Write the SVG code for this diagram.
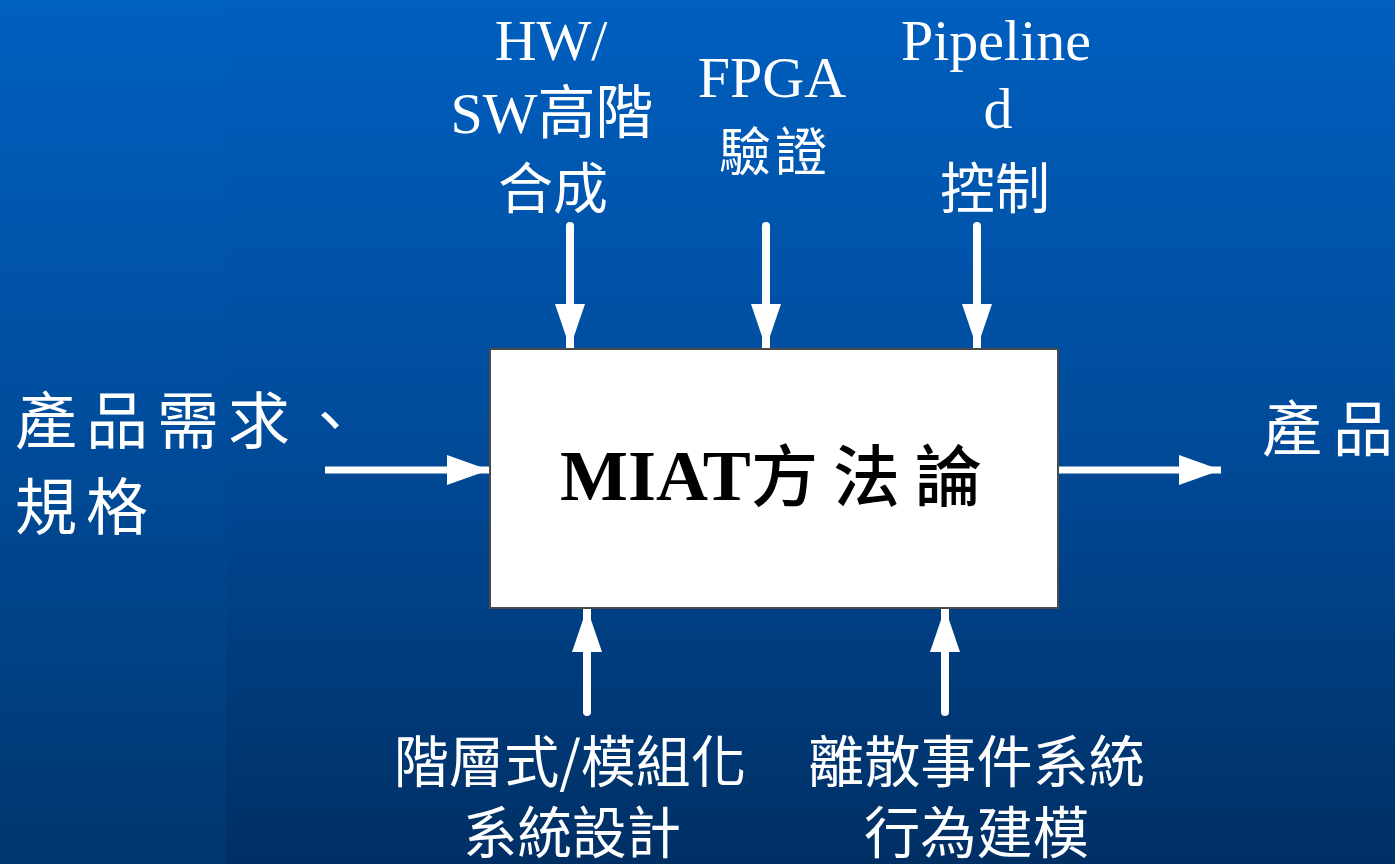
<svg xmlns="http://www.w3.org/2000/svg" width="1395" height="864" viewBox="0 0 1395 864">
  <defs>
    <linearGradient id="bg" x1="0" y1="0" x2="0" y2="1">
      <stop offset="0" stop-color="#005FBF"/>
      <stop offset="0.5" stop-color="#004B9A"/>
      <stop offset="1" stop-color="#002F64"/>
    </linearGradient>
    <linearGradient id="bgl" x1="0" y1="0" x2="0" y2="1">
      <stop offset="0" stop-color="#0060C0"/>
      <stop offset="0.5" stop-color="#004C9B"/>
      <stop offset="1" stop-color="#00366E"/>
    </linearGradient>
    <marker id="ah" markerUnits="userSpaceOnUse" markerWidth="44" markerHeight="30" refX="44" refY="15" orient="auto">
      <path d="M0,0 L44,15 L0,30 Z" fill="#FFFFFF"/>
    </marker>
    <marker id="ahh" markerUnits="userSpaceOnUse" markerWidth="42" markerHeight="30" refX="42" refY="15" orient="auto">
      <path d="M0,0 L42,15 L0,30 Z" fill="#FFFFFF"/>
    </marker>
  </defs>
  <style>
    .lbl { fill: #FFFFFF; font-family: "Liberation Serif", "Noto Sans CJK TC", serif; }
    .cjk { fill: #FFFFFF; font-family: "Noto Sans CJK TC", "Liberation Serif", sans-serif; }
    .shaft { stroke: #FFFFFF; stroke-width: 8; fill: none; stroke-linecap: round; }
    .hshaft { stroke: #FFFFFF; stroke-width: 7; fill: none; }
  </style>

  <rect x="0" y="0" width="1395" height="864" fill="url(#bg)"/>
  <rect x="0" y="0" width="226" height="864" fill="url(#bgl)"/>

  <g id="connectors">
    <line class="shaft" x1="570" y1="226" x2="570" y2="348" marker-end="url(#ah)"/>
    <line class="shaft" x1="766" y1="226" x2="766" y2="348" marker-end="url(#ah)"/>
    <line class="shaft" x1="977" y1="226" x2="977" y2="348" marker-end="url(#ah)"/>
    <line class="shaft" x1="587" y1="712" x2="587" y2="608" marker-end="url(#ah)"/>
    <line class="shaft" x1="945" y1="712" x2="945" y2="608" marker-end="url(#ah)"/>
    <line class="hshaft" x1="325" y1="470" x2="489" y2="470" marker-end="url(#ahh)"/>
    <line class="hshaft" x1="1059" y1="470" x2="1221" y2="470" marker-end="url(#ahh)"/>
  </g>

  <g id="miat">
    <rect x="490" y="349" width="568" height="259" fill="#FFFFFF" stroke="#4A4A4A" stroke-width="2"/>
    <text x="560" y="500" font-family="Liberation Serif, serif" font-weight="bold" font-size="72" fill="#000000">MIAT</text>
    <text x="751" y="501" font-family="Noto Sans CJK TC, sans-serif" font-weight="500" font-size="67" fill="#000000">方<tspan dx="15">法</tspan><tspan dx="15">論</tspan></text>
  </g>

  <g id="hwsw">
    <text class="lbl" x="551" y="60" font-size="58" text-anchor="middle">HW/</text>
    <text class="lbl" x="552" y="133" font-size="58" text-anchor="middle">SW高階</text>
    <text class="cjk" x="553" y="208" font-size="55" text-anchor="middle">合成</text>
  </g>

  <g id="fpga">
    <text class="lbl" x="772" y="97" font-size="58" text-anchor="middle">FPGA</text>
    <text class="cjk" x="773" y="171" font-size="52" text-anchor="middle">驗<tspan dx="4">證</tspan></text>
  </g>

  <g id="pipelined">
    <text class="lbl" x="996" y="60" font-size="58" text-anchor="middle">Pipeline</text>
    <text class="lbl" x="998" y="128" font-size="58" text-anchor="middle">d</text>
    <text class="cjk" x="995" y="208" font-size="55" text-anchor="middle">控制</text>
  </g>

  <g id="input">
    <text class="cjk" x="15" y="444" font-size="62">產<tspan dx="9">品</tspan><tspan dx="9">需</tspan><tspan dx="9">求</tspan><tspan dx="9">、</tspan></text>
    <text class="cjk" x="15" y="530" font-size="62">規<tspan dx="9">格</tspan></text>
  </g>

  <g id="output">
    <text class="cjk" x="1262" y="451" font-size="60">產<tspan dx="11">品</tspan></text>
  </g>

  <g id="hier">
    <text class="cjk" x="394" y="782" font-size="56" textLength="352" lengthAdjust="spacingAndGlyphs">階層式/模組化</text>
    <text class="cjk" x="463" y="853" font-size="56" textLength="218" lengthAdjust="spacingAndGlyphs">系統設計</text>
  </g>

  <g id="des">
    <text class="cjk" x="808" y="782" font-size="56" textLength="337" lengthAdjust="spacingAndGlyphs">離散事件系統</text>
    <text class="cjk" x="864" y="853" font-size="56" textLength="225" lengthAdjust="spacingAndGlyphs">行為建模</text>
  </g>
</svg>
